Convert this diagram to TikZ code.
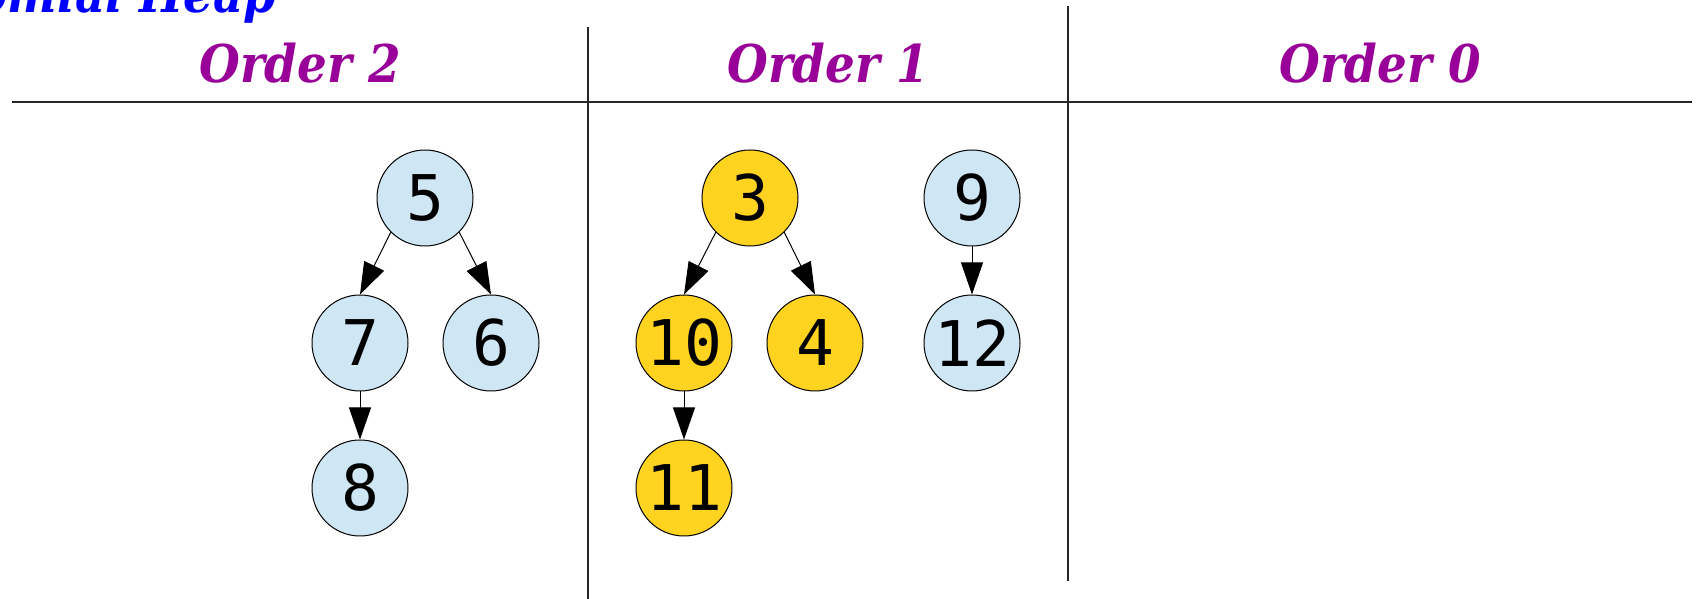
\documentclass[tikz,border=0pt]{standalone}
\usepackage{fontspec}
\usetikzlibrary{positioning,arrows.meta}
\newfontfamily\headfont{DejaVu Serif}[FakeStretch=0.9]
\newfontfamily\numfont{DejaVu Sans Mono}
\definecolor{cTitle}{HTML}{0000FF}
\definecolor{cOrder}{HTML}{990099}
\definecolor{cTree}{HTML}{CFE6F4}
\definecolor{cMerge}{HTML}{FFD320}
\newcommand{\orderlabel}[1]{{\headfont\bfseries\itshape\fontsize{26}{30}\selectfont #1}}

\begin{document}
\begin{tikzpicture}[x=0.5pt,y=0.5pt,
    every node/.style={inner sep=0pt},
    heapnode/.style={circle,draw=black,line width=0.5pt,minimum size=48pt,
                     font=\numfont\fontsize{31.5}{36}\selectfont},
    treenode/.style={heapnode,fill=cTree},
    mergenode/.style={heapnode,fill=cMerge},
    rule/.style={draw=black!85,line width=0.6pt},
    edge/.style={draw=black,line width=0.5pt,-{Triangle[length=16pt,width=11pt]}},
    node distance=24pt]
    \clip (0,0) rectangle (1697,599);
    \draw[rule] (12,497) -- (1692,497);
    \draw[rule] (588,572) -- (588,0);
    \draw[rule] (1068,593) -- (1068,18);
    \node[anchor=base east,text=cTitle] (title) at (277,586) {\orderlabel{Binomial Heap}};
    \node[anchor=base,text=cOrder] (ord2) at (300,516) {\orderlabel{Order 2}};
    \node[anchor=base,text=cOrder] (ord1) at (828,516) {\orderlabel{Order 1}};
    \node[anchor=base,text=cOrder] (ord0) at (1380,516) {\orderlabel{Order 0}};
    \node[treenode] (n5) at (425,401) {5};
    \node[treenode,below=of n5,xshift=-32.5pt] (n7) {7};
    \node[treenode,below=of n5,xshift=33pt] (n6) {6};
    \node[treenode,below=of n7] (n8) {8};
    \node[mergenode] (n3) at (750,401) {3};
    \node[mergenode,below=of n3,xshift=-33pt] (n10) {10};
    \node[mergenode,below=of n3,xshift=32.5pt] (n4) {4};
    \node[mergenode,below=of n10] (n11) {11};
    \node[treenode] (n9) at (972,401) {9};
    \node[treenode,below=of n9] (n12) {12};
    \draw[edge] (n5.south west) -- (n7.north);
    \draw[edge] (n5.south east) -- (n6.north);
    \draw[edge] (n7.south) -- (n8.north);
    \draw[edge] (n3.south west) -- (n10.north);
    \draw[edge] (n3.south east) -- (n4.north);
    \draw[edge] (n10.south) -- (n11.north);
    \draw[edge] (n9.south) -- (n12.north);
  \end{tikzpicture}
\end{document}
